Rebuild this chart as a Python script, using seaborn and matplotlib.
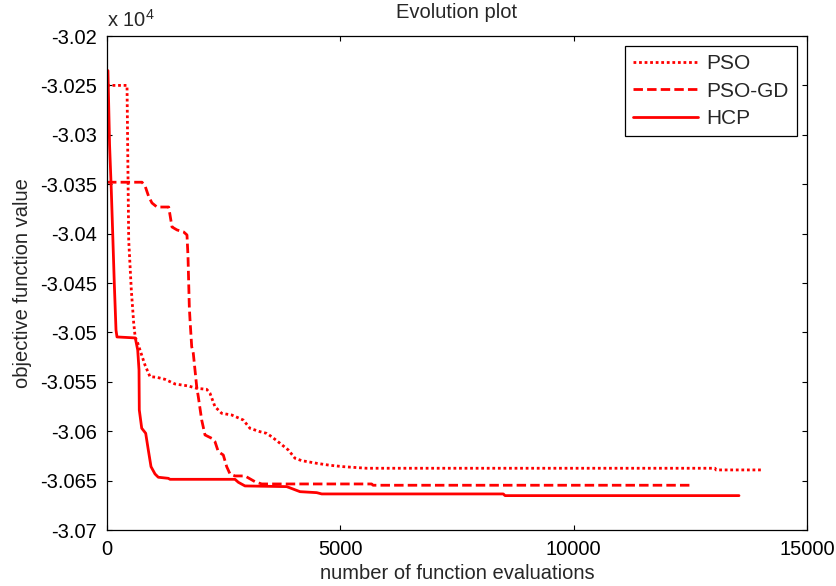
import numpy as np
import pandas as pd
import matplotlib
matplotlib.use("Agg")
import matplotlib.pyplot as plt
from matplotlib.ticker import MultipleLocator, FuncFormatter
import seaborn as sns

# Convergence histories (function evaluations vs. objective value, in units of 1e4)
pso_evals = [0, 429, 465, 521, 572, 606, 636, 707, 814, 921, 1065, 1243, 1457,
             1742, 1922, 2136, 2207, 2314, 2458, 2672, 2921, 3064, 3279, 3422,
             3529, 3707, 3885, 4029, 4172, 4494, 4779, 5064, 5565, 13029, 13050,
             14064]
pso_vals = [-3.0250, -3.0250, -3.04065, -3.04571, -3.04905, -3.05056, -3.05077,
            -3.05178, -3.05330, -3.05448, -3.05454, -3.05475, -3.05522, -3.05542,
            -3.05566, -3.05576, -3.05616, -3.05752, -3.05819, -3.05836, -3.05887,
            -3.05971, -3.06005, -3.06022, -3.06056, -3.06122, -3.06190, -3.06274,
            -3.06298, -3.06325, -3.06345, -3.06359, -3.06375, -3.06375, -3.06392,
            -3.06392]

psogd_evals = [0, 750, 821, 894, 964, 1071, 1322, 1393, 1500, 1644, 1714, 1736,
               1764, 1779, 1815, 1849, 1922, 1956, 2029, 2100, 2244, 2314, 2385,
               2492, 2565, 2636, 2743, 2957, 3171, 3315, 5672, 5700, 12551]
psogd_vals = [-3.0348, -3.0348, -3.03525, -3.03626, -3.03690, -3.03731, -3.03731,
              -3.03933, -3.03963, -3.03984, -3.04014, -3.04237, -3.04743, -3.04874,
              -3.05145, -3.05211, -3.05549, -3.05650, -3.05886, -3.06038, -3.06072,
              -3.06106, -3.06207, -3.06241, -3.06359, -3.06433, -3.06453, -3.06453,
              -3.06511, -3.06534, -3.06534, -3.06547, -3.06547]

hcp_evals = [20, 55, 92, 122, 156, 193, 214, 606, 658, 686, 692, 744, 829, 885,
             943, 1029, 1099, 1314, 1350, 2743, 2814, 2957, 3851, 4136, 4494, 4601,
             8492, 8529, 13543]
hcp_vals = [-3.0235, -3.0310, -3.03559, -3.03994, -3.04500, -3.04976, -3.05046,
            -3.05056, -3.05178, -3.05380, -3.05785, -3.05970, -3.06021, -3.06190,
            -3.06359, -3.06433, -3.06466, -3.06477, -3.06487, -3.06487, -3.06517,
            -3.06554, -3.06561, -3.06612, -3.06622, -3.06635, -3.06635, -3.06652,
            -3.06652]

series_names = ["PSO", "PSO-GD", "HCP"]
x_ticks = [0, 5000, 10000, 15000]

sns.set_theme(style="ticks")
plt.rcParams["font.family"] = ["Liberation Sans", "DejaVu Sans"]
plt.rcParams["mathtext.fontset"] = "custom"
plt.rcParams["mathtext.rm"] = "Liberation Sans"
plt.rcParams["mathtext.it"] = "Liberation Sans"

FS = 14.5

fig = plt.figure(figsize=(8.36, 5.86), dpi=100)
ax = fig.add_axes([107 / 836, 1 - 530 / 586, 700 / 836, 494 / 586])

styles = {
    "PSO": (0, (1, 1)),
    "PSO-GD": (0, (3.4, 1.5)),
    "HCP": "-",
}
data = {
    "PSO": (pso_evals, pso_vals),
    "PSO-GD": (psogd_evals, psogd_vals),
    "HCP": (hcp_evals, hcp_vals),
}

for name in series_names:
    xs, ys = data[name]
    df = pd.DataFrame({"evals": xs, "value": ys})
    sns.lineplot(data=df, x="evals", y="value", ax=ax, color="#ff0000",
                 linewidth=2, linestyle=styles[name], label=name,
                 estimator=None, sort=False)

ax.set_xlim(0, 15000)
ax.set_ylim(-3.07, -3.02)
ax.set_xticks(x_ticks)
ax.xaxis.set_major_formatter(FuncFormatter(lambda v, p: f"{v:g}"))
ax.yaxis.set_major_locator(MultipleLocator(0.005))
ax.yaxis.set_major_formatter(FuncFormatter(lambda v, p: f"{round(v, 4):g}"))

for side in ["top", "right", "bottom", "left"]:
    ax.spines[side].set_visible(True)
    ax.spines[side].set_color("black")
    ax.spines[side].set_linewidth(0.9)
ax.tick_params(direction="in", length=3.6, width=0.8, colors="black",
               labelsize=FS, top=True, right=True, pad=7)

ax.set_xlabel("number of function evaluations", fontsize=FS, labelpad=4)
ax.set_ylabel("objective function value", fontsize=FS, labelpad=6)
ax.set_title("Evolution plot", fontsize=FS, pad=13)
ax.text(0.0, 1.01, r"x 10$^4$", transform=ax.transAxes, ha="left",
        va="bottom", fontsize=FS)

leg = ax.legend(loc="upper right", fontsize=15, frameon=True, fancybox=False,
                edgecolor="black", framealpha=1, handlelength=3.1,
                handletextpad=0.4, borderpad=0.38, labelspacing=0.4,
                borderaxespad=0.5)
leg.get_frame().set_linewidth(0.9)

fig.savefig("out.png", dpi=100, facecolor="white")
